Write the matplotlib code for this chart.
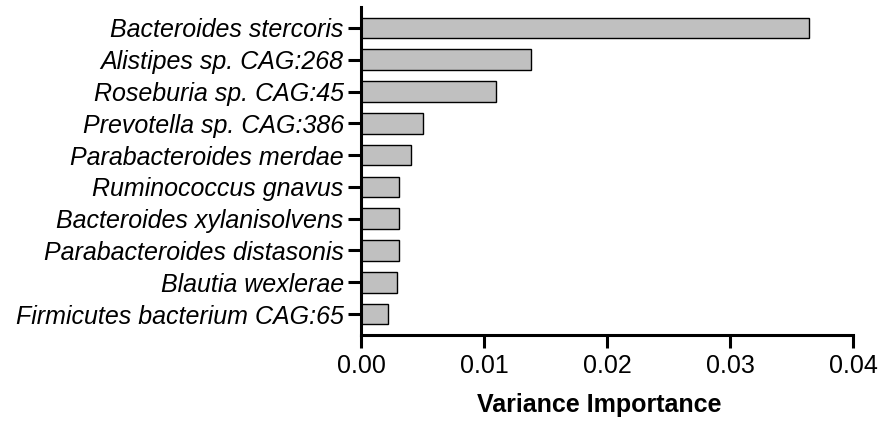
import matplotlib.pyplot as plt

# Species ordered top to bottom
species = [
    "Bacteroides stercoris",
    "Alistipes sp. CAG:268",
    "Roseburia sp. CAG:45",
    "Prevotella sp. CAG:386",
    "Parabacteroides merdae",
    "Ruminococcus gnavus",
    "Bacteroides xylanisolvens",
    "Parabacteroides distasonis",
    "Blautia wexlerae",
    "Firmicutes bacterium CAG:65",
]
importance = [0.0364, 0.0138, 0.0110, 0.0050, 0.0041, 0.0031, 0.0031, 0.0031, 0.0029, 0.0022]
x_ticks = [0.00, 0.01, 0.02, 0.03, 0.04]

plt.rcParams["font.family"] = ["Liberation Sans", "DejaVu Sans"]

fig = plt.figure(figsize=(8.82, 4.22), dpi=100)
ax = fig.add_axes([0.4093, 0.2062, 0.5578, 0.7772])

pos = list(range(len(species)))
ax.barh(pos, importance, height=0.65, color="#C0C0C0", edgecolor="black", linewidth=1.0)

ax.set_ylim(len(species) - 1 + 0.66, -0.66)
ax.set_xlim(0, 0.04)
ax.set_yticks(pos)
ax.set_yticklabels(species, fontsize=18, style="italic")
ax.set_xticks(x_ticks)
ax.set_xticklabels([f"{t:.2f}" for t in x_ticks], fontsize=18)
ax.set_xlabel("Variance Importance", fontsize=18, fontweight="bold", labelpad=11, x=0.485)

for side in ["top", "right"]:
    ax.spines[side].set_visible(False)
for side in ["left", "bottom"]:
    ax.spines[side].set_linewidth(2.2)
ax.tick_params(axis="both", width=2.2, length=9.5, color="black")
ax.tick_params(axis="y", pad=3)
ax.tick_params(axis="x", pad=4)

fig.savefig("out.png", dpi=100)
